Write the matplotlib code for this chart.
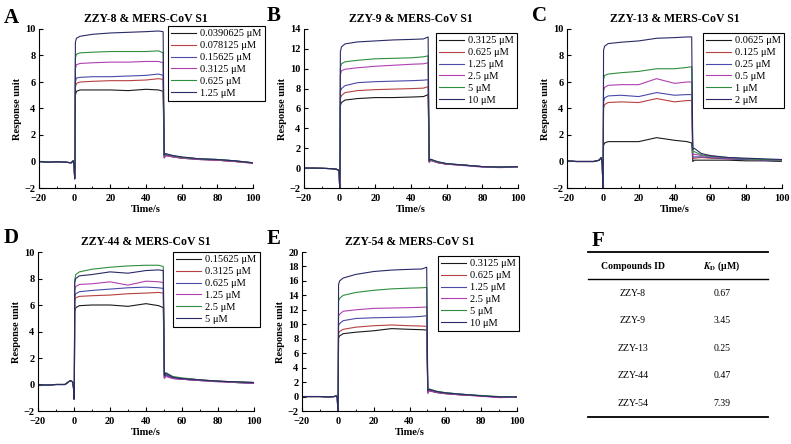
import matplotlib
matplotlib.use("Agg")
import matplotlib.pyplot as plt
import numpy as np

plt.rcParams["font.family"] = ["Liberation Serif", "DejaVu Serif"]
plt.rcParams["mathtext.fontset"] = "stix"

# ---- data ----
COLORS = ["#1a1a1a", "#b84040", "#4a4aa8", "#b040b0", "#2f8f3f", "#2a2a66"]

base_t = [-20, -15, -10, -5, -2, -0.8, -0.3, 0.0, 0.2]
assoc_t = [0.4, 1, 3, 10, 20, 30, 40, 47, 49.6]
dissoc_t = [50.2, 51, 55, 60, 70, 80, 90, 100]

# A: ZZY-8
a_labels = ["0.0390625 μM", "0.078125 μM", "0.15625 μM", "0.3125 μM", "0.625 μM", "1.25 μM"]
a_base = [0.0, -0.05, -0.02, -0.05, -0.1, 0.05, -0.3, -1.3, -0.3]
a_assoc = [
    [5.0, 5.3, 5.4, 5.4, 5.4, 5.35, 5.45, 5.4, 5.3],
    [5.6, 5.9, 6.0, 6.05, 6.1, 6.1, 6.15, 6.25, 6.2],
    [6.0, 6.3, 6.35, 6.4, 6.4, 6.45, 6.5, 6.6, 6.5],
    [7.0, 7.3, 7.4, 7.45, 7.5, 7.5, 7.55, 7.55, 7.45],
    [7.8, 8.1, 8.2, 8.25, 8.3, 8.3, 8.3, 8.35, 8.2],
    [9.0, 9.3, 9.45, 9.6, 9.7, 9.75, 9.8, 9.85, 9.8],
]
a_dissoc = [
    [0.3, 0.45, 0.35, 0.25, 0.15, 0.1, 0.0, -0.1],
    [0.35, 0.5, 0.4, 0.3, 0.2, 0.1, 0.0, -0.1],
    [0.4, 0.5, 0.4, 0.3, 0.2, 0.15, 0.05, -0.1],
    [0.25, 0.45, 0.35, 0.25, 0.15, 0.1, 0.0, -0.15],
    [0.45, 0.55, 0.45, 0.3, 0.2, 0.15, 0.05, -0.1],
    [0.5, 0.6, 0.45, 0.35, 0.2, 0.15, 0.05, -0.1],
]

# B: ZZY-9
b_labels = ["0.3125 μM", "0.625 μM", "1.25 μM", "2.5 μM", "5 μM", "10 μM"]
b_base = [0.0, 0.0, -0.02, -0.05, -0.1, -0.2, -0.3, -2.0, -0.5]
b_assoc = [
    [6.3, 6.6, 6.85, 7.0, 7.1, 7.1, 7.15, 7.2, 7.4],
    [7.0, 7.3, 7.6, 7.8, 7.9, 7.95, 8.0, 8.05, 8.2],
    [7.7, 8.0, 8.3, 8.6, 8.7, 8.75, 8.8, 8.85, 8.9],
    [9.4, 9.8, 9.95, 10.1, 10.25, 10.35, 10.45, 10.5, 10.6],
    [10.1, 10.5, 10.7, 10.85, 11.0, 11.05, 11.1, 11.2, 11.3],
    [11.7, 12.2, 12.5, 12.7, 12.8, 12.9, 12.95, 13.0, 13.2],
]
b_dissoc = [
    [0.6, 0.8, 0.55, 0.4, 0.3, 0.15, 0.1, 0.15],
    [0.65, 0.8, 0.55, 0.4, 0.3, 0.15, 0.1, 0.15],
    [0.7, 0.85, 0.6, 0.45, 0.3, 0.15, 0.1, 0.15],
    [0.6, 0.75, 0.55, 0.4, 0.25, 0.1, 0.05, 0.1],
    [0.7, 0.85, 0.6, 0.45, 0.3, 0.15, 0.1, 0.15],
    [0.75, 0.9, 0.65, 0.45, 0.3, 0.15, 0.1, 0.15],
]

# C: ZZY-13
c_labels = ["0.0625 μM", "0.125 μM", "0.25 μM", "0.5 μM", "1 μM", "2 μM"]
c_base = [0.05, 0.0, 0.0, 0.0, 0.1, 0.3, -0.2, -2.0, -0.5]
c_assoc = [
    [1.2, 1.4, 1.5, 1.5, 1.5, 1.8, 1.6, 1.5, 1.4],
    [4.0, 4.3, 4.45, 4.5, 4.45, 4.75, 4.5, 4.6, 4.6],
    [4.5, 4.8, 4.95, 5.0, 4.9, 5.2, 5.0, 5.05, 5.05],
    [5.3, 5.6, 5.75, 5.8, 5.8, 6.25, 5.9, 6.0, 6.0],
    [6.2, 6.5, 6.6, 6.7, 6.8, 7.0, 7.0, 7.1, 7.15],
    [8.4, 8.7, 8.9, 9.0, 9.1, 9.3, 9.35, 9.4, 9.4],
]
c_dissoc = [
    [0.0, 0.1, 0.1, 0.1, 0.1, 0.05, 0.05, 0.0],
    [0.2, 0.25, 0.3, 0.25, 0.2, 0.15, 0.1, 0.05],
    [0.3, 0.35, 0.35, 0.3, 0.2, 0.15, 0.1, 0.05],
    [0.5, 0.55, 0.45, 0.35, 0.25, 0.2, 0.15, 0.1],
    [0.7, 0.75, 0.5, 0.4, 0.3, 0.2, 0.15, 0.1],
    [0.9, 1.0, 0.6, 0.45, 0.3, 0.25, 0.2, 0.15],
]

# D: ZZY-44
d_labels = ["0.15625 μM", "0.3125 μM", "0.625 μM", "1.25 μM", "2.5 μM", "5 μM"]
d_base = [0.0, -0.05, 0.0, 0.0, 0.3, 0.2, -0.2, -1.1, -0.3]
d_assoc = [
    [5.5, 5.8, 5.95, 6.0, 6.0, 5.9, 6.1, 5.95, 5.8],
    [6.3, 6.55, 6.65, 6.7, 6.75, 6.85, 6.9, 6.95, 6.9],
    [6.6, 6.85, 7.0, 7.1, 7.2, 7.3, 7.35, 7.3, 7.25],
    [7.1, 7.4, 7.55, 7.6, 7.75, 7.5, 7.8, 7.75, 7.7],
    [7.9, 8.3, 8.5, 8.7, 8.85, 8.95, 9.0, 9.0, 8.9],
    [7.7, 8.0, 8.2, 8.3, 8.5, 8.4, 8.6, 8.65, 8.6],
]
d_dissoc = [
    [0.5, 0.7, 0.45, 0.4, 0.3, 0.25, 0.15, 0.1],
    [0.6, 0.75, 0.5, 0.45, 0.35, 0.25, 0.2, 0.15],
    [0.55, 0.7, 0.5, 0.4, 0.3, 0.25, 0.15, 0.1],
    [0.45, 0.6, 0.45, 0.4, 0.3, 0.2, 0.15, 0.1],
    [0.7, 0.9, 0.6, 0.5, 0.35, 0.25, 0.2, 0.15],
    [0.65, 0.85, 0.55, 0.45, 0.35, 0.25, 0.2, 0.15],
]

# E: ZZY-54
e_labels = ["0.3125 μM", "0.625 μM", "1.25 μM", "2.5 μM", "5 μM", "10 μM"]
e_base = [0.0, 0.0, 0.0, -0.05, 0.0, 0.1, -0.2, -2.0, -0.5]
e_assoc = [
    [8.1, 8.4, 8.7, 8.9, 9.1, 9.4, 9.3, 9.25, 9.2],
    [8.7, 9.0, 9.3, 9.6, 9.8, 9.9, 9.8, 9.75, 9.7],
    [9.8, 10.1, 10.5, 10.8, 10.9, 10.95, 11.0, 11.1, 11.2],
    [11.1, 11.4, 11.8, 12.0, 12.2, 12.25, 12.3, 12.35, 12.4],
    [13.2, 13.6, 14.0, 14.4, 14.7, 14.9, 15.0, 15.05, 15.1],
    [15.5, 16.0, 16.4, 16.9, 17.3, 17.5, 17.6, 17.65, 17.9],
]
e_dissoc = [
    [0.6, 0.8, 0.55, 0.4, 0.2, 0.1, -0.1, -0.1],
    [0.7, 0.9, 0.6, 0.45, 0.25, 0.1, -0.1, -0.1],
    [0.75, 0.95, 0.65, 0.5, 0.3, 0.1, -0.05, -0.05],
    [0.4, 0.8, 0.6, 0.4, 0.2, 0.05, -0.15, -0.1],
    [0.9, 1.05, 0.75, 0.55, 0.3, 0.15, 0.0, -0.05],
    [0.8, 1.0, 0.7, 0.5, 0.3, 0.1, -0.05, -0.05],
]

# F: table
compounds = ["ZZY-8", "ZZY-9", "ZZY-13", "ZZY-44", "ZZY-54"]
kd_values = ["0.67", "3.45", "0.25", "0.47", "7.39"]

PANELS = [
    ("A", "ZZY-8 & MERS-CoV S1", a_labels, a_base, a_assoc, a_dissoc, (-2, 10), 2),
    ("B", "ZZY-9 & MERS-CoV S1", b_labels, b_base, b_assoc, b_dissoc, (-2, 14), 2),
    ("C", "ZZY-13 & MERS-CoV S1", c_labels, c_base, c_assoc, c_dissoc, (-2, 10), 2),
    ("D", "ZZY-44 & MERS-CoV S1", d_labels, d_base, d_assoc, d_dissoc, (-2, 10), 2),
    ("E", "ZZY-54 & MERS-CoV S1", e_labels, e_base, e_assoc, e_dissoc, (-2, 20), 2),
]

W, H = 791, 444
# axes boxes in pixels: left, top, right, bottom
BOXES = [(39, 29, 253, 188), (304, 29, 518, 188), (567, 29, 782, 188),
         (38, 252, 254, 411), (302, 252, 517, 411)]
LEG_AT = [(168, 26), (436, 33), (703, 33), (173, 252), (438, 256)]
LETTER_AT = [(4, 23), (267, 21), (532, 21), (4, 243), (267, 244)]


def panel(fig, box, leg_at, letter_at, spec):
    letter, title, labels, base, assoc, dissoc, ylim, ystep = spec
    l, t, r, b = box
    ax = fig.add_axes([l / W, 1 - b / H, (r - l) / W, (b - t) / H])
    for i in range(6):
        x = list(base_t) + assoc_t + dissoc_t
        y = list(base) + assoc[i] + dissoc[i]
        ax.plot(x, y, color=COLORS[i], lw=0.8, label=labels[i])
    ax.set_xlim(-20, 100)
    ax.set_ylim(*ylim)
    ax.set_xticks(np.arange(-20, 101, 20))
    ax.set_xticks(np.arange(-10, 100, 20), minor=True)
    ax.set_yticks(np.arange(ylim[0], ylim[1] + 1, ystep))
    ax.spines[["top", "right"]].set_visible(False)
    ax.tick_params(direction="in", length=3, width=0.8, labelsize=7.5)
    ax.tick_params(axis="x", pad=4)
    ax.tick_params(axis="y", pad=2.5)
    ax.tick_params(which="minor", direction="in", length=1.8, width=0.6)
    for lab in ax.get_xticklabels() + ax.get_yticklabels():
        lab.set_fontweight("bold")
    ax.set_xlabel("Time/s", fontsize=7.5, fontweight="bold", labelpad=2)
    ax.set_ylabel("Response unit", fontsize=7.5, fontweight="bold", labelpad=2)
    ax.set_title(title, fontsize=8.5, fontweight="bold", pad=5)
    leg = ax.legend(loc="upper left", bbox_to_anchor=(leg_at[0] / W, 1 - leg_at[1] / H),
                    bbox_transform=fig.transFigure, fontsize=7.5, frameon=True,
                    fancybox=False, edgecolor="black", framealpha=1, borderpad=0.3,
                    labelspacing=0.25, handlelength=2.4, handletextpad=0.4,
                    borderaxespad=0)
    leg.get_frame().set_linewidth(0.8)
    fig.text(letter_at[0] / W, 1 - letter_at[1] / H, letter, fontsize=15,
             fontweight="bold", va="baseline", ha="left")


fig = plt.figure(figsize=(W / 100, H / 100), dpi=100)
for spec, box, la, lt in zip(PANELS, BOXES, LEG_AT, LETTER_AT):
    panel(fig, box, la, lt, spec)

# panel F table
tx = fig.add_axes([0, 0, 1, 1])
tx.set_xlim(0, W); tx.set_ylim(H, 0); tx.axis("off")
tx.text(592, 246, "F", fontsize=15, fontweight="bold", va="baseline")
for yy, lw in [(252, 1.3), (279, 1.0), (417, 1.3)]:
    tx.plot([588, 768], [yy, yy], color="black", lw=lw)
tx.text(633, 266, "Compounds ID", fontsize=7, fontweight="bold", ha="center", va="center")
tx.text(722, 266, r"$\mathbfit{K}_{\mathbf{D}}$ (μM)", fontsize=7, fontweight="bold",
        ha="center", va="center")
row_y = [293, 320, 348, 375, 403]
for yy, name, kd in zip(row_y, compounds, kd_values):
    tx.text(633, yy, name, fontsize=7, ha="center", va="center")
    tx.text(722, yy, kd, fontsize=7, ha="center", va="center")

fig.savefig("out.png", dpi=100)
